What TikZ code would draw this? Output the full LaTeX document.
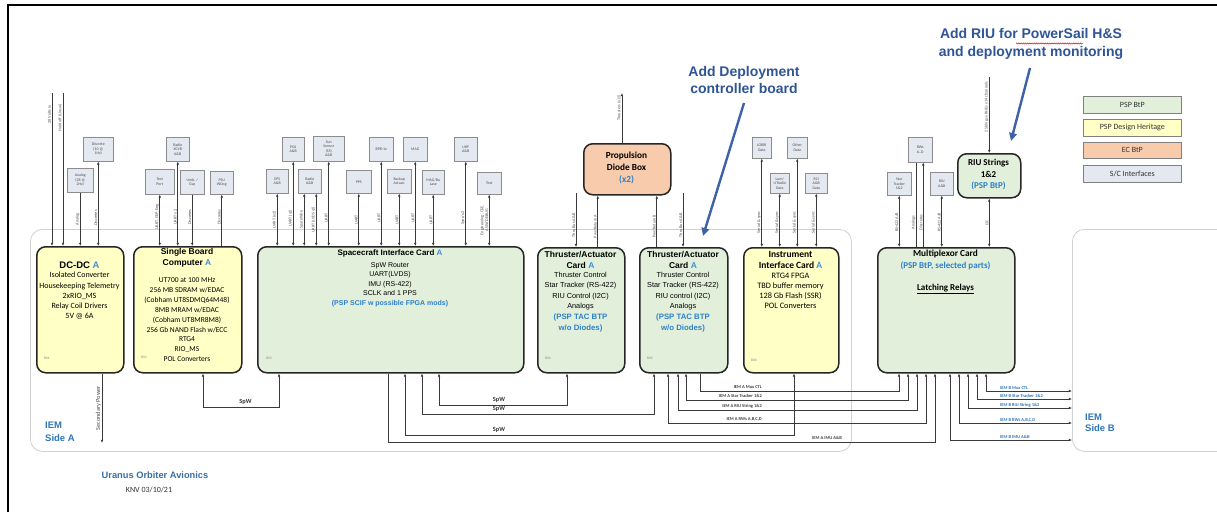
\documentclass[tikz,border=0pt]{standalone}
\usepackage{fontspec}
\setmainfont{Carlito}
\newfontfamily\arialf{Liberation Sans}
\usetikzlibrary{arrows.meta,decorations.pathmorphing}
\definecolor{gfill}{HTML}{E2EFDA}
\definecolor{yfill}{HTML}{FFFFC6}
\definecolor{sfill}{HTML}{F8CBAD}
\definecolor{ifill}{HTML}{E4E8F0}
\definecolor{cardA}{HTML}{3F8FD6}
\definecolor{pspblue}{HTML}{2E80C8}
\definecolor{iemblue}{HTML}{2E75B6}
\definecolor{titleblue}{HTML}{3A6EA5}
\definecolor{annblue}{HTML}{2F5597}
\definecolor{annarrow}{HTML}{3D62A8}
\definecolor{linec}{HTML}{3A3A3A}
\definecolor{lblc}{HTML}{505050}
\newcommand\myfs[2]{\fontsize{#1}{#2}\selectfont}
\newcommand\mkbox[7]{\node[#1, anchor=north west, minimum width={(#5-#3)*1pt}, minimum height={(#6-#4)*1pt}] (#2) at (#3,#4) {#7};}
\tikzset{
  cn/.style={draw=linec, line width=0.55pt},
  bi/.style={cn, {Latex[length=3.2pt,width=2.6pt]}-{Latex[length=3.2pt,width=2.6pt]}},
  arrE/.style={cn, -{Latex[length=3.2pt,width=2.6pt]}},
  arrS/.style={cn, {Latex[length=3.2pt,width=2.6pt]}-},
  card/.style={draw=black!85, line width=1.5pt, rounded corners=9pt, inner sep=0pt},
  ifbox/.style={draw=black!45, line width=0.5pt, fill=ifill, inner sep=0pt, align=center, font=\myfs{3.9}{4.5}, text=black!70},
  side/.style={draw=black!18, line width=0.8pt, rounded corners=12pt, fill=white, inner sep=0pt},
  lg/.style={draw=black!50, line width=0.7pt, inner sep=0pt, font=\myfs{8}{9}, text=black!80},
  lbl/.style={font=\myfs{4.2}{4.8}, text=lblc, sloped, above, inner sep=0.7pt, align=center},
  lbl2/.style={lbl, font=\myfs{6.3}{7}},
  tinyb/.style={font=\myfs{3.6}{4}, text=black!45, anchor=west, inner sep=0pt},
  txt/.style={inner sep=0pt, align=center},
  spw/.style={font=\myfs{6.3}{7}\bfseries, text=black!80, inner sep=0pt},
  ia/.style={font=\myfs{4.5}{5}\bfseries, text=black!75, inner sep=0pt, anchor=south east},
  ib/.style={font=\myfs{4.5}{5}\bfseries, text=iemblue, inner sep=0pt, anchor=south west}
}
\begin{document}
\begin{tikzpicture}[x=1pt,y=-1pt]
\useasboundingbox (0,0) rectangle (1217,512);
\fill[white] (0,0) rectangle (1217,512);
\draw[black, line width=1.6pt] (8,512) -- (8,5) -- (1217,5);

% IEM sides
\mkbox{side}{sideA}{30}{229}{851}{451}{}
\mkbox{side}{sideB}{1072}{229}{1240}{451}{}
\node[txt, anchor=west, align=left, font=\arialf\bfseries\myfs{9.5}{13}, text=iemblue] (sideAl) at (45,431.5) {IEM\\Side A};
\node[txt, anchor=west, align=left, font=\arialf\bfseries\myfs{9.5}{11.5}, text=iemblue] (sideBl) at (1085,423) {IEM\\Side B};

% cards
\mkbox{card,fill=yfill}{dcdc}{36}{246}{123}{372}{}
\mkbox{card,fill=yfill}{sbc}{133}{246}{241}{372}{}
\mkbox{card,fill=gfill}{scif}{257}{246}{523}{372}{}
\mkbox{card,fill=gfill}{tac1}{537}{247}{624}{372}{}
\mkbox{card,fill=gfill}{tac2}{639}{247}{727}{372}{}
\mkbox{card,fill=yfill}{iic}{743}{247}{838}{372}{}
\mkbox{card,fill=gfill}{mux}{877}{247}{1014}{372}{}
\mkbox{card,fill=gfill}{riu}{957}{153}{1020}{197}{}
\mkbox{card,fill=sfill}{prop}{583}{143}{670}{194}{}

% card texts
\node[txt, font=\arialf\bfseries\myfs{9.5}{11}] (dcdct) at (79.5,265) {DC-DC \textcolor{cardA}{A}};
\node[txt, font=\myfs{8}{10.2}] (dcdcb) at (79.5,296) {Isolated Converter\\Housekeeping Telemetry\\2xRIO\_MS\\Relay Coil Drivers\\5V @ 6A};
\node[tinyb] (dcdcn) at (44,358) {B01};

\node[txt, font=\arialf\bfseries\myfs{8.5}{10.6}] (sbct) at (187,258) {Single Board\\Computer \textcolor{cardA}{A}};
\node[txt, font=\myfs{7.5}{9.9}] (sbcb) at (187,319.7) {UT700 at 100 MHz\\256 MB SDRAM w/EDAC\\(Cobham UT8SDMQ64M48)\\8MB MRAM w/EDAC\\(Cobham UT8MR8M8)\\256 Gb NAND Flash w/ECC\\RTG4\\RIO\_MS\\POL Converters};
\node[tinyb] (sbcn) at (141,357) {B02};

\node[txt, font=\arialf\bfseries\myfs{8}{10}] (scift) at (390,253) {Spacecraft Interface Card \textcolor{cardA}{A}};
\node[txt, font=\arialf\myfs{7}{9.4}] (scifb) at (390,279) {SpW Router\\UART(LVDS)\\IMU (RS-422)\\SCLK and 1 PPS};
\node[txt, font=\arialf\bfseries\myfs{7}{9}, text=pspblue] (scifp) at (390,304) {(PSP SCIF w possible FPGA mods)};
\node[tinyb] (scifn) at (266,358) {B03};

\node[txt, font=\arialf\bfseries\myfs{8.5}{11.7}] (tac1t) at (580.5,260) {Thruster/Actuator\\Card \textcolor{cardA}{A}};
\node[txt, font=\arialf\myfs{7.3}{10.3}] (tac1b) at (580.5,291.2) {Thruster Control\\Star Tracker (RS-422)\\RIU Control (I2C)\\Analogs};
\node[txt, font=\arialf\bfseries\myfs{7.8}{11}, text=pspblue] (tac1p) at (580.5,322.8) {(PSP TAC BTP\\w/o Diodes)};
\node[tinyb] (tac1n) at (545,358) {B04};

\node[txt, font=\arialf\bfseries\myfs{8.5}{11.7}] (tac2t) at (683,260) {Thruster/Actuator\\Card \textcolor{cardA}{A}};
\node[txt, font=\arialf\myfs{7.3}{10.3}] (tac2b) at (683,291.2) {Thruster Control\\Star Tracker (RS-422)\\RIU control (I2C)\\Analogs};
\node[txt, font=\arialf\bfseries\myfs{7.8}{11}, text=pspblue] (tac2p) at (683,322.8) {(PSP TAC BTP\\w/o Diodes)};
\node[tinyb] (tac2n) at (647,358) {B05};

\node[txt, font=\bfseries\myfs{9.5}{11}] (iict) at (790.5,259.5) {Instrument\\Interface Card \textcolor{cardA}{A}};
\node[txt, font=\myfs{8.3}{10}] (iicb) at (790.5,290.5) {RTG4 FPGA\\TBD buffer memory\\128 Gb Flash (SSR)\\POL Converters};
\node[tinyb] (iicn) at (751,360) {B06};

\node[txt, font=\bfseries\myfs{9.3}{11}] (muxt) at (945.5,254) {Multiplexor Card};
\node[txt, font=\bfseries\myfs{9}{11}, text=pspblue] (muxp) at (945.5,266) {(PSP BtP, selected parts)};
\node[txt, font=\bfseries\myfs{9}{11}] (muxl) at (945.5,289) {\underline{Latching Relays}};

\node[txt, font=\bfseries\myfs{9}{11.3}] (riut) at (988.5,174.7) {RIU Strings\\1\&2\\\textcolor{pspblue}{(PSP BtP)}};
\node[txt, font=\bfseries\myfs{9.3}{12}] (propt) at (626.5,168) {Propulsion\\Diode Box\\\textcolor{pspblue}{(x2)}};

% interface boxes
\mkbox{ifbox}{analog}{67}{168}{93}{192}{Analog\\(28 @\\2Hz)}
\mkbox{ifbox}{discr}{83}{137}{113}{161}{Discrete\\(10 @\\1Hz)}
\mkbox{ifbox}{testp}{145}{169}{174}{194}{Test\\Port}
\mkbox{ifbox}{radio1}{166}{137}{189}{161}{Radio\\XCVR\\A\&B}
\mkbox{ifbox}{umb}{180}{170}{204}{194}{Umb. /\\Gsp}
\mkbox{ifbox}{psuw}{210}{171}{233}{194}{PSU\\WDog}
\mkbox{ifbox}{eps}{266}{169}{288}{193}{EPS\\A\&B}
\mkbox{ifbox}{psu}{282}{137}{304}{161}{PSU\\A\&B}
\mkbox{ifbox}{radio}{298}{169}{321}{193}{Radio\\A\&B}
\mkbox{ifbox}{sun}{313}{136}{344}{161}{Sun\\Sensor\\(SS)\\A\&B}
\mkbox{ifbox}{pps}{346}{170}{371}{193}{PPS}
\mkbox{ifbox}{bpr}{369}{137}{393}{161}{BPR-1x}
\mkbox{ifbox}{bkup}{387}{169}{411}{193}{Backup\\Actuat.}
\mkbox{ifbox}{mag}{403}{137}{427}{161}{MAG}
\mkbox{ifbox}{magbu}{422}{170}{444}{194}{MAG/Bu\\Lase}
\mkbox{ifbox}{uhf}{454}{137}{477}{161}{UHF\\A\&B}
\mkbox{ifbox}{testb}{477}{172}{501}{194}{Test}
\mkbox{ifbox}{lorri}{752}{137}{771}{158}{LORRI\\Data}
\mkbox{ifbox}{other}{787}{137}{807}{158}{Other\\Data}
\mkbox{ifbox}{lum}{770}{173}{789}{193}{Lum/\\U'Radio\\Data}
\mkbox{ifbox}{rci}{805}{173}{827}{193}{RCI\\A\&B\\Data}
\mkbox{ifbox}{stt}{887}{172}{911}{195}{Star\\Tracker\\1\&2}
\mkbox{ifbox}{rws}{908}{137}{932}{162}{RWs\\A..D}
\mkbox{ifbox}{riua}{930}{172}{953}{195}{RIU\\A\&B}

% legend
\mkbox{lg,fill=gfill}{lg1}{1083}{96}{1181}{113}{PSP BtP}
\mkbox{lg,fill=yfill}{lg2}{1083}{119}{1181}{136}{PSP Design Heritage}
\mkbox{lg,fill=sfill}{lg3}{1083}{142}{1181}{158}{EC BtP}
\mkbox{lg,fill=ifill}{lg4}{1083}{165}{1181}{182}{S/C Interfaces}

% DC-DC connectors
\coordinate (v28a) at (52,93);
\coordinate (v28b) at (63,93);
\draw[arrS] (v28a |- dcdc.north) -- node[lbl,pos=.86]{28 Volts in} (v28a);
\draw[arrS] (v28b |- dcdc.north) -- node[lbl,pos=.84]{Hold off (Unsw.)} (v28b);
\draw[arrS] (analog.south |- dcdc.north) -- node[lbl,pos=.5]{Analog} (analog.south);
\draw[bi] (discr.south |- dcdc.north) -- node[lbl,pos=.33]{Discretes} (discr.south);
\coordinate (secP) at (102,443);
\draw[arrS] (secP) -- node[lbl2,pos=.5]{Secondary Power} (secP |- dcdc.south);

% SBC connectors
\draw[bi] (testp.south |- sbc.north) -- node[lbl,pos=.56]{UART, GSP, Eng} (testp.south);
\draw[bi] (radio1.south |- sbc.north) -- node[lbl,pos=.34]{UART x 2} (radio1.south);
\draw[arrS] (umb.south |- sbc.north) -- node[lbl,pos=.56]{Discretes} (umb.south);
\draw[arrE] (psuw.south |- sbc.north) -- node[lbl,pos=.56]{Discretes} (psuw.south);

% SCIF connectors
\coordinate (rdA) at ([xshift=-5.5pt]radio.south);
\coordinate (rdB) at ([xshift=6.5pt]radio.south);
\draw[bi] (eps.south |- scif.north) -- node[lbl,pos=.5]{UART (x2)} (eps.south);
\draw[bi] (psu.south |- scif.north) -- node[lbl,pos=.33]{UART (x2)} (psu.south);
\draw[bi] (rdA |- scif.north) -- node[lbl,pos=.5]{SpaceWire} (rdA);
\draw[bi] (rdB |- scif.north) -- node[lbl,pos=.5]{UART (LVDS x2)} (rdB);
\draw[bi] (sun.south |- scif.north) -- node[lbl,pos=.33]{UART} (sun.south);
\draw[bi] (pps.south |- scif.north) -- node[lbl,pos=.5]{UART} (pps.south);
\draw[bi] (bpr.south |- scif.north) -- node[lbl,pos=.33]{UART} (bpr.south);
\draw[bi] (bkup.south |- scif.north) -- node[lbl,pos=.5]{UART} (bkup.south);
\draw[bi] (mag.south |- scif.north) -- node[lbl,pos=.33]{UART} (mag.south);
\draw[bi] (magbu.south |- scif.north) -- node[lbl,pos=.5]{UART} (magbu.south);
\draw[bi] (uhf.south |- scif.north) -- node[lbl,pos=.33]{Sync/x2} (uhf.south);
\draw[bi] (testb.south |- scif.north) -- node[lbl,pos=.5]{Engineering, GSE,\\ASW/DEBUG} (testb.south);

% propulsion connectors
\coordinate (tbA) at (576,193);
\coordinate (tbB) at (683,193);
\coordinate (pwA) at ([xshift=16.5pt]tac1.north);
\coordinate (pwB) at ([xshift=-27pt]tac2.north);
\coordinate (thrT) at (622,93);
\draw[arrS] (tbA |- tac1.north) -- node[lbl,pos=.4]{Thru Bus A\&B} (tbA);
\draw[arrE] (pwA) -- node[lbl,pos=.4]{Pwr/Return A} (pwA |- prop.south);
\draw[arrE] (pwB) -- node[lbl,pos=.4]{Pwr/Return B} (pwB |- prop.south);
\draw[arrS] (tbB |- tac2.north) -- node[lbl,pos=.4]{Thru Bus A\&B} (tbB);
\draw[arrE] (thrT |- prop.north) -- node[lbl,pos=.7]{Thrusters (x12)} (thrT);

% instrument connectors
\draw[bi] (lorri.south |- iic.north) -- node[lbl,pos=.28]{Serial \& sync} (lorri.south);
\draw[bi] (lum.south |- iic.north) -- node[lbl,pos=.46]{Serial \& sync} (lum.south);
\draw[bi] (other.south |- iic.north) -- node[lbl,pos=.28]{Serial \& sync} (other.south);
\draw[bi] (rci.south |- iic.north) -- node[lbl,pos=.46]{Serial \& sync} (rci.south);

% multiplexor connectors
\coordinate (rwA) at ([xshift=-4pt]rws.south);
\coordinate (rwD) at ([xshift=3pt]rws.south);
\coordinate (riuT) at ([yshift=76pt]riu.north);
\draw[bi] (stt.south |- mux.north) -- node[lbl,pos=.48]{RS-422 A/B} (stt.south);
\draw[cn] (rwA |- mux.north) -- node[lbl,pos=.29]{Analogs} (rwA);
\draw[arrE] (rwD |- mux.north) -- node[lbl,pos=.29]{Discretes} (rwD);
\draw[bi] (riua.south |- mux.north) -- node[lbl,pos=.48]{RS-422 A/B} (riua.south);
\draw[bi] (riu.south |- mux.north) -- node[lbl,pos=.5]{I2C} (riu.south);
\draw[arrS] (riu.north) -- node[lbl,pos=.6]{2 Strings x RHEs x 14 channels} (riuT);

% bottom SpW and IEM A buses
\draw[bi] ([xshift=70pt]sbc.south west) -- ++(0,34) -| ([xshift=22pt]scif.south west);
\draw[bi] ([xshift=182pt]scif.south west) -- ++(0,32) -| ([xshift=30pt]tac1.south west);
\draw[bi] ([xshift=165pt]scif.south west) -- ++(0,41) -| ([xshift=15pt]tac2.south west);
\draw[bi] ([xshift=148pt]scif.south west) -- ++(0,62) -| ([xshift=51pt]iic.south west);
\draw[arrE] ([xshift=131pt]scif.south west) -- ++(0,69) -| ([xshift=58pt]mux.south west);
\draw[arrE] ([xshift=61pt]tac2.south west) -- ++(0,18) -| ([xshift=22pt]mux.south west);
\draw[bi] ([xshift=47pt]tac2.south west) -- ++(0,27) -| ([xshift=31pt]mux.south west);
\draw[bi] ([xshift=39pt]tac2.south west) -- ++(0,37) -| ([xshift=40pt]mux.south west);
\draw[bi] ([xshift=29pt]tac2.south west) -- ++(0,50) -| ([xshift=49pt]mux.south west);
\node[spw] (spw0) at (245.5,402) {SpW};
\node[spw] (spw1) at (499,399.5) {SpW};
\node[spw] (spw2) at (499,409) {SpW};
\node[spw] (spw3) at (499,430) {SpW};
\node[ia] (ia1) at (762,389) {IEM A Mux CTL};
\node[ia] (ia2) at (762,398) {IEM A Star Tracker 1\&2};
\node[ia] (ia3) at (762,408) {IEM A RIU String 1\&2};
\node[ia] (ia4) at (762,421) {IEM A RWs A,B,C,D};
\node[ia] (ia5) at (842,440) {IEM A IMU A\&B};

% IEM B buses
\draw[bi] ([xshift=109pt]mux.south west) |- ([yshift=-162pt]sideB.north west);
\draw[bi] ([xshift=100pt]mux.south west) |- ([yshift=-170pt]sideB.north west);
\draw[bi] ([xshift=91pt]mux.south west) |- ([yshift=-179pt]sideB.north west);
\draw[bi] ([xshift=82pt]mux.south west) |- ([yshift=-194pt]sideB.north west);
\draw[bi] ([xshift=73pt]mux.south west) |- ([yshift=-211pt]sideB.north west);
\node[ib] (ib1) at (1000,390) {IEM B Mux CTL};
\node[ib] (ib2) at (1000,398) {IEM B Star Tracker 1\&2};
\node[ib] (ib3) at (1000,407) {IEM B RIU String 1\&2};
\node[ib] (ib4) at (1000,422) {IEM B RWs A,B,C,D};
\node[ib] (ib5) at (1000,439) {IEM B IMU A\&B};

% title
\node[txt, font=\arialf\bfseries\myfs{9.3}{11}, text=titleblue] (title) at (155,475) {Uranus Orbiter Avionics};
\node[txt, font=\myfs{8}{10}, text=black!80] (date) at (149,490) {KNV 03/10/21};

% annotations
\node[txt, font=\arialf\bfseries\myfs{14}{16.5}, text=annblue] (ann1) at (744,80) {Add Deployment\\controller board};
\node[txt, font=\arialf\bfseries\myfs{14}{18}, text=annblue] (ann2) at (1031,44) {Add RIU for PowerSail H\&S\\and deployment monitoring};
\coordinate (a1s) at (744,103);
\coordinate (a1t) at (703,236);
\coordinate (a2s) at (1030,68);
\coordinate (a2t) at (1011,141);
\draw[annarrow, line width=2.4pt, -{Triangle[length=8pt,width=7.5pt]}] (a1s) -- (a1t);
\draw[annarrow, line width=2.4pt, -{Triangle[length=8pt,width=7.5pt]}] (a2s) -- (a2t);
\draw[red, line width=0.5pt, decorate, decoration={snake, amplitude=0.6pt, segment length=2.2pt}] (1016,43.5) -- (1083,43.5);
\end{tikzpicture}
\end{document}
